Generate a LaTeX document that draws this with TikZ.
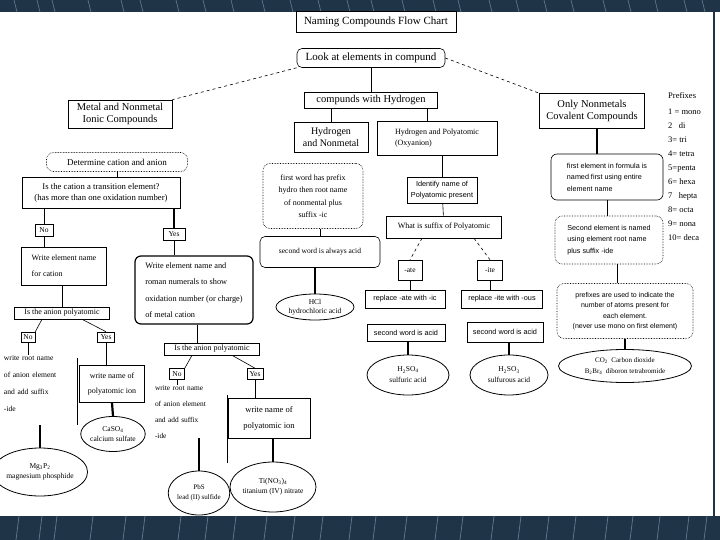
\documentclass[tikz,border=0pt]{standalone}
\usepackage{fontspec}
\setmainfont{Liberation Serif}
\newfontfamily\boxsans{Liberation Sans}
\usetikzlibrary{shapes.geometric}
\definecolor{bandblue}{HTML}{1F3447}
\definecolor{streak}{HTML}{5F7B8E}

\begin{document}
\begin{tikzpicture}[x=1pt, y=-1pt,
    box/.style={rectangle, draw, line width=0.6pt, inner sep=1.5pt, align=center, font=\fontsize{8}{9.5}\selectfont},
    bigbox/.style={box, font=\fontsize{11}{12.5}\selectfont},
    sansbox/.style={box, align=left, font=\boxsans\fontsize{6.8}{11}\selectfont},
    rbox/.style={box, rounded corners=5pt},
    dbox/.style={box, rounded corners=7pt, densely dotted},
    oval/.style={ellipse, draw, line width=0.8pt, inner sep=0pt, align=center, font=\fontsize{7.5}{9}\selectfont},
    tag/.style={box, inner sep=1pt, font=\fontsize{7.5}{8}\selectfont},
    plain/.style={align=left, inner sep=0pt, anchor=north},
    link/.style={line width=0.6pt},
    heavy/.style={line width=2.2pt},
    dashlink/.style={line width=0.6pt, dashed}
]
\useasboundingbox (0,0) rectangle (720,540);

% scanned slide border
\fill[bandblue] (0,0) rectangle (720,12);
\fill[bandblue] (0,516) rectangle (720,540);
\foreach \sx in {14,37,52,88,121,140,176,203,231,262,290,318,347,371,402,433,458,489,516,544,571,603,628,655,684,702}
  \draw[streak, line width=0.7pt] (\sx,0) -- (\sx+3,12) (\sx+5,516) -- (\sx+2,540);
\draw[bandblue, line width=2pt] (714,12) -- (714,516);

% top of the chart
\node[bigbox, minimum width=160pt, minimum height=21pt] (title) at (376,22) {Naming Compounds Flow Chart};
\node[bigbox, rounded corners=5pt, minimum width=148pt, minimum height=19pt] (look) at (371,58) {Look at elements in compund};
\node[bigbox, minimum width=104pt, minimum height=28pt, font=\fontsize{10.5}{11.5}\selectfont] (metal) at (120,114) {Metal and Nonmetal\\Ionic Compounds};
\node[bigbox, minimum width=133pt, minimum height=16pt, font=\fontsize{10.5}{11.5}\selectfont] (hyd) at (371,100) {compunds with Hydrogen};
\node[bigbox, minimum width=105pt, minimum height=35pt, font=\fontsize{10.5}{12}\selectfont] (only) at (592,111) {Only Nonmetals\\Covalent Compounds};

\draw[dashlink] (look.south west) -- (metal.north east);
\draw[dashlink] (look.east) -- (only.north west);
\draw[link] (look) -- (hyd);

% hydrogen branch
\node[bigbox, minimum width=74pt, minimum height=30pt, font=\fontsize{10}{11.5}\selectfont] (hnm) at (331,137) {Hydrogen\\and Nonmetal};
\node[box, align=left, minimum width=120pt, minimum height=34pt, font=\fontsize{8}{11}\selectfont] (hpoly) at (437,138) {Hydrogen and Polyatomic\\ (Oxyanion)};
\draw[link] (hyd.south -| hnm) -- (hnm.north);
\draw[link] ([xshift=56pt]hyd.south) -- ([xshift=-10pt]hpoly.north);

\node[dbox, minimum width=100pt, minimum height=65pt, font=\fontsize{8}{12.5}\selectfont] (firstw) at (313,196) {first word has prefix\\hydro then root name\\of nonmental plus\\suffix -ic};
\node[rbox, minimum width=120pt, minimum height=31pt, font=\fontsize{7.5}{8}\selectfont] (second) at (320,252) {second word is always acid};
\node[oval, minimum width=78pt, minimum height=26pt] (hcl) at (315,307) {HCl\\hydrochloric acid};
\draw[link] (firstw.south -| second) -- (second.north);
\draw[heavy] (second.south -| hcl) -- (hcl.north);

\node[sansbox, align=center, font=\boxsans\fontsize{7.3}{11}\selectfont, minimum width=70pt, minimum height=26pt] (ident) at (442,190) {Identify name of\\Polyatomic present};
\node[box, minimum width=115pt, minimum height=22pt, font=\fontsize{8}{9}\selectfont] (suffix) at (444,227) {What is suffix of Polyatomic};
\node[tag, minimum width=24pt, minimum height=20pt] (ate) at (410,270) {-ate};
\node[tag, minimum width=25pt, minimum height=20pt] (ite) at (490,270) {-ite};
\draw[link] (hpoly.south -| ident) -- (ident.north);
\draw[link] (ident) -- (suffix);
\draw[dashlink] ([xshift=-22pt]suffix.south) -- (ate.north);
\draw[dashlink] ([xshift=30pt]suffix.south) -- (ite.north);

\node[sansbox, font=\boxsans\fontsize{7.3}{11}\selectfont, minimum width=80pt, minimum height=18pt] (repate) at (405,299) {replace -ate with -ic};
\node[sansbox, font=\boxsans\fontsize{7.3}{11}\selectfont, minimum width=81pt, minimum height=18pt] (repite) at (502,299) {replace -ite with -ous};
\node[sansbox, font=\boxsans\fontsize{7.3}{11}\selectfont, minimum width=78pt, minimum height=17pt] (acid1) at (406,333) {second word is acid};
\node[sansbox, font=\boxsans\fontsize{7.3}{11}\selectfont, minimum width=76pt, minimum height=20pt] (acid2) at (505,332) {second word is acid};
\node[oval, minimum width=82pt, minimum height=40pt] (hso4) at (408,375) {H\textsubscript{2}SO\textsubscript{4}\\[2pt]sulfuric acid};
\node[oval, minimum width=78pt, minimum height=40pt] (hso3) at (509,375) {H\textsubscript{2}SO\textsubscript{3}\\[2pt]sulfurous acid};
\draw[link] (ate.south) -- (ate.south |- repate.north);
\draw[link] (ite.south) -- (ite.south |- repite.north);
\draw[heavy] (acid1.south -| hso4) -- (hso4.north);
\draw[heavy] (acid2.south -| hso3) -- (hso3.north);

% covalent branch
\node[sansbox, rounded corners=6pt, font=\boxsans\fontsize{7.2}{11.5}\selectfont, minimum width=112pt, minimum height=46pt] (firste) at (607,177) {first element in formula is\\named first using entire\\element name};
\node[sansbox, dbox, align=left, font=\boxsans\fontsize{7.2}{11.5}\selectfont, minimum width=108pt, minimum height=48pt] (secnd) at (609,240) {Second element is named\\using element root name\\plus suffix -ide};
\node[sansbox, dbox, align=center, font=\boxsans\fontsize{7}{10.5}\selectfont, minimum width=136pt, minimum height=55pt] (prefx) at (625,311) {prefixes are used to indicate the\\number of atoms present for\\each element.\\(never use mono on first element)};
\node[oval, minimum width=133pt, minimum height=33pt, font=\fontsize{7}{11}\selectfont] (co2) at (625,366) {CO\textsubscript{2} \ Carbon dioxide\\B\textsubscript{2}Br\textsubscript{4} \ diboron tetrabromide};
\draw[heavy] ([xshift=5pt]only.south) -- ([xshift=-10pt]firste.north);
\draw[link] (firste.south) -- (firste.south |- secnd.north);
\draw[link] ([xshift=8pt]secnd.south) -- ([xshift=-8pt]prefx.north);
\draw[heavy] (prefx.south) -- (co2.north);

\node[align=left, inner sep=0pt, anchor=north west, font=\fontsize{8.5}{14}\selectfont] (plist) at (668,92) {Prefixes\\[2pt]1 = mono\\2~~ di\\3= tri\\4= tetra\\5=penta\\6= hexa\\7~~ hepta\\8= octa\\9= nona\\10= deca};

% ionic branch
\node[dbox, minimum width=141pt, minimum height=19pt, font=\fontsize{9}{10}\selectfont] (det) at (117,162) {Determine cation and anion};
\node[box, minimum width=158pt, minimum height=31pt, font=\fontsize{8.7}{11}\selectfont] (trans) at (101,193) {Is the cation a transition element?\\(has more than one oxidation number)};
\node[tag, minimum width=18pt, minimum height=12pt] (no1) at (44,230) {No};
\node[tag, minimum width=22pt, minimum height=12pt] (yes1) at (174,234) {Yes};
\node[box, align=left, minimum width=85pt, minimum height=38pt, font=\fontsize{8}{16}\selectfont] (wcat) at (64,266) {Write element name\\for cation};
\node[box, align=left, line width=1.2pt, rounded corners=6pt, minimum width=118pt, minimum height=68pt, font=\fontsize{8.3}{16.5}\selectfont] (roman) at (194,290) {Write element name and\\roman numerals to show\\oxidation number (or charge)\\of metal cation};
\draw[link] (det.south) -- (det.south |- trans.north);
\draw[link] (trans.south -| no1) -- (no1.north);
\draw[heavy] (trans.south -| yes1) -- (yes1.north);
\draw[link] (no1.south) -- (no1.south |- wcat.north);
\draw[link] (yes1.south) -- (yes1.south |- roman.north);

\node[box, minimum width=95pt, minimum height=12pt, font=\fontsize{8}{8.5}\selectfont] (anion1) at (62,313) {Is the anion polyatomic};
\node[tag, minimum width=14pt, minimum height=10pt] (no2) at (28,337) {No};
\node[tag, minimum width=17pt, minimum height=10pt] (yes2) at (106,337) {Yes};
\node[plain, text width=72pt, font=\fontsize{7.6}{17}\selectfont] (root1) at (40,355) {write root name\\of anion element\\and add suffix\\-ide};
\node[box, minimum width=65pt, minimum height=37pt, font=\fontsize{8}{15}\selectfont] (pion1) at (112,384) {write name of\\polyatomic ion};
\node[oval, minimum width=54pt, minimum height=35pt] (caso4) at (113,434) {CaSO\textsubscript{4}\\[1pt]calcium sulfate};
\node[oval, minimum width=76pt, minimum height=48pt] (mgp) at (40,472) {Mg\textsubscript{3}P\textsubscript{2}\\[1pt]magnesium phosphide};
\coordinate (side1a) at (77,358);
\coordinate (side1b) at (77,425);
\draw[link] (wcat.south -| anion1) -- (anion1.north);
\draw[link] ([xshift=-20pt]anion1.south) -- (no2.north east);
\draw[link] ([xshift=20pt]anion1.south) -- (yes2.north);
\draw[link] (no2.south) -- (no2.south |- root1.north);
\draw[link] (yes2.south) -- (yes2.south |- pion1.north);
\draw[link] (side1a) -- (side1b);
\draw[heavy] (pion1.south) -- (caso4.north);
\draw[heavy] (side1b -| mgp) -- (mgp.north);

\node[box, minimum width=95pt, minimum height=12pt, font=\fontsize{8}{8.5}\selectfont] (anion2) at (212,349) {Is the anion polyatomic};
\node[tag, minimum width=15pt, minimum height=11pt] (no3) at (177,374) {No};
\node[tag, minimum width=16pt, minimum height=11pt] (yes3) at (255,374) {Yes};
\node[plain, text width=70pt, font=\fontsize{7.4}{16}\selectfont] (root2) at (190,385) {write root name\\of anion element\\and add suffix\\-ide};
\node[box, minimum width=82pt, minimum height=40pt, font=\fontsize{8.5}{16}\selectfont] (pion2) at (269,418) {write name of\\polyatomic ion};
\node[oval, minimum width=58pt, minimum height=44pt, font=\fontsize{7}{9}\selectfont] (pbs) at (199,493) {PbS\\[1pt]lead (II) sulfide};
\node[oval, minimum width=80pt, minimum height=50pt] (ti) at (273,487) {Ti(NO\textsubscript{3})\textsubscript{4}\\[1pt]titanium (IV) nitrate};
\coordinate (side2a) at (227,395);
\coordinate (side2b) at (227,463);
\draw[link] ([xshift=3pt]roman.south) -- ([xshift=3pt]roman.south |- anion2.north);
\draw[link] ([xshift=-20pt]anion2.south) -- (no3.north east);
\draw[link] ([xshift=20pt]anion2.south) -- (yes3.north);
\draw[link] (no3.south) -- (no3.south |- root2.north);
\draw[link] (yes3.south) -- (yes3.south |- pion2.north);
\draw[link] (side2a) -- (side2b);
\draw[heavy] (pion2.south -| ti) -- (ti.north);
\draw[heavy] (root2.south -| pbs) -- (pbs.north);
\end{tikzpicture}
\end{document}
